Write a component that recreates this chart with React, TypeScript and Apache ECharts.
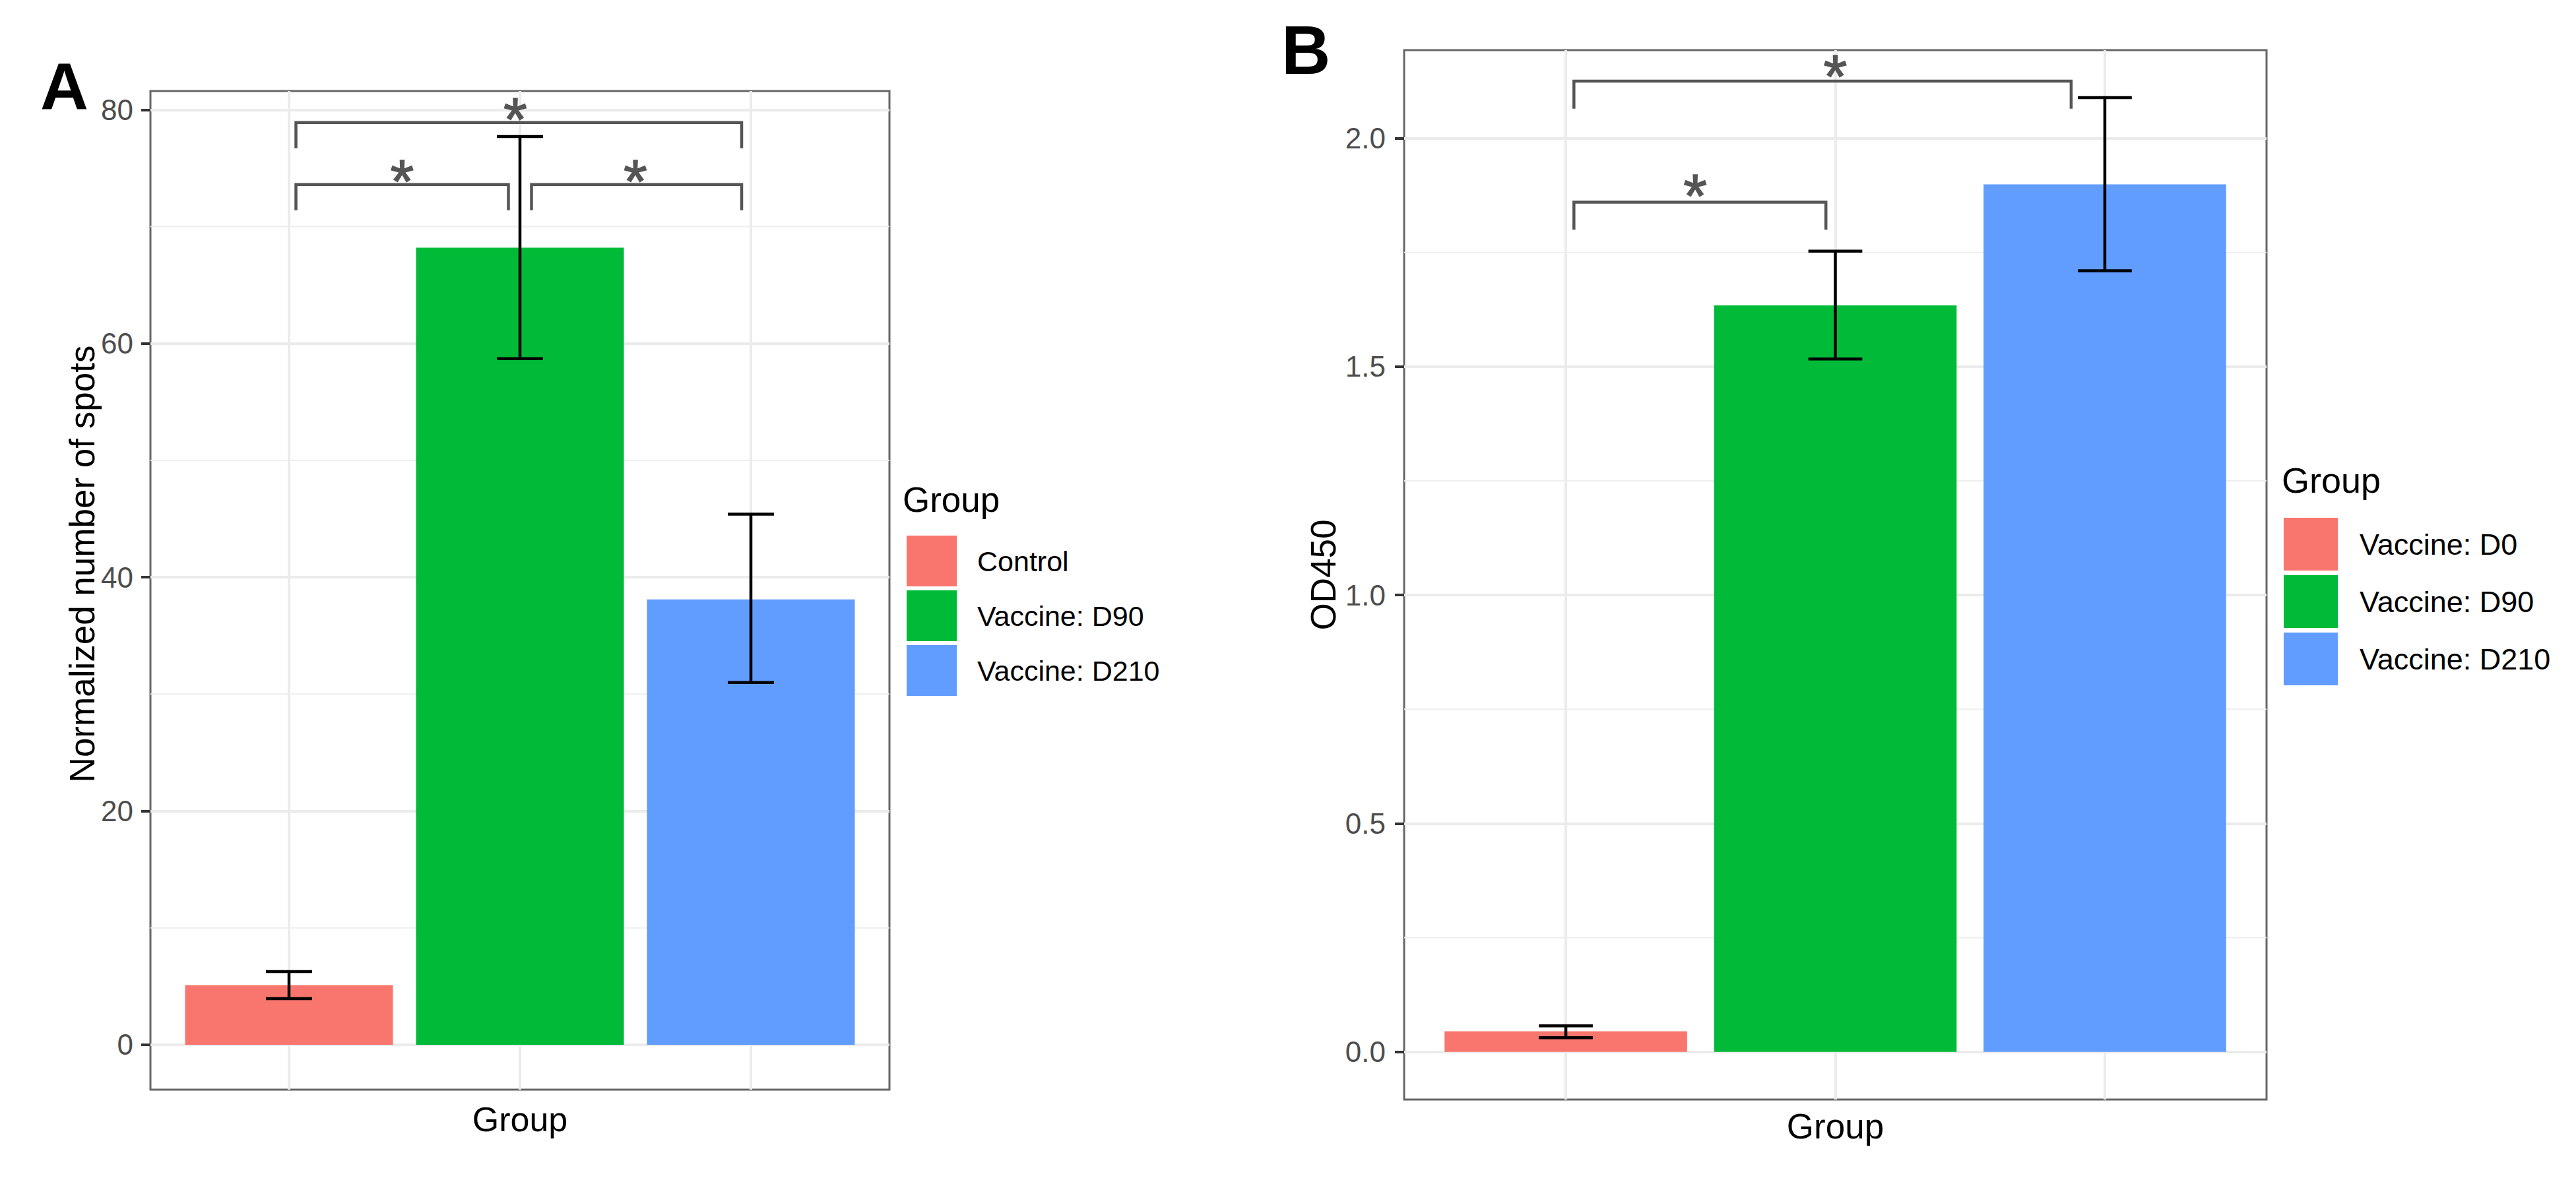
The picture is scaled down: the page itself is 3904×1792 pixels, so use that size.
import { useEffect, useRef } from "react";
import * as echarts from "echarts";

// two ggplot-style bar panels (A: ELISpot spots, B: OD450) with SE bars and significance brackets

const FONT = "Liberation Sans, Arial, Helvetica, sans-serif";
const FILLS = ["#F8766D", "#00BA38", "#619CFF"];

// panel A
const groupsA = ["Control", "Vaccine: D90", "Vaccine: D210"];
const meansA = [5.1, 68.2, 38.1];
const lowA = [3.95, 58.7, 31.0];
const highA = [6.26, 77.7, 45.4];
const ticksA = [0, 20, 40, 60, 80];
const minorA = [10, 30, 50, 70];
// [xmin, xmax, bar height, tip end]
const bracketsA = [
  [1.03, 2.96, 78.9, 76.7],
  [1.03, 1.95, 73.6, 71.4],
  [2.05, 2.96, 73.6, 71.4],
];
const starsA = [
  [1.98, 80.1],
  [1.49, 74.8],
  [2.5, 74.8],
];

// panel B
const groupsB = ["Vaccine: D0", "Vaccine: D90", "Vaccine: D210"];
const meansB = [0.045, 1.634, 1.899];
const lowB = [0.031, 1.517, 1.71];
const highB = [0.057, 1.753, 2.089];
const ticksB = [0, 0.5, 1, 1.5, 2];
const minorB = [0.25, 0.75, 1.25, 1.75];
const bracketsB = [
  [1.03, 2.875, 2.125, 2.065],
  [1.03, 1.965, 1.86, 1.8],
];
const starsB = [
  [2.0, 2.158],
  [1.48, 1.897],
];

const XMIN = 0.4;
const XMAX = 3.6;
const BAR_HALF = 0.45;
const CAP_HALF = 0.1;
const STAR_SIZE = 92;

function barSeries(names: string[], means: number[], idx: number) {
  return names.map((name, i) => ({
    name,
    type: "custom",
    xAxisIndex: idx,
    yAxisIndex: idx,
    z: 2,
    itemStyle: { color: FILLS[i] },
    data: [[i + 1, means[i]]],
    renderItem: (_p: any, api: any) => {
      const x = api.value(0);
      const v = api.value(1);
      const tl = api.coord([x - BAR_HALF, v]);
      const br = api.coord([x + BAR_HALF, 0]);
      return {
        type: "rect",
        shape: { x: tl[0], y: tl[1], width: br[0] - tl[0], height: br[1] - tl[1] },
        style: { fill: FILLS[i] },
      };
    },
  }));
}

function errorSeries(low: number[], high: number[], idx: number) {
  return {
    type: "custom",
    xAxisIndex: idx,
    yAxisIndex: idx,
    z: 4,
    data: low.map((lo, i) => [i + 1, lo, high[i]]),
    renderItem: (_p: any, api: any) => {
      const x = api.value(0);
      const top = api.coord([x, api.value(2)]);
      const bot = api.coord([x, api.value(1)]);
      const l = api.coord([x - CAP_HALF, 0])[0];
      const r = api.coord([x + CAP_HALF, 0])[0];
      const s = { stroke: "#000", lineWidth: 4.5 };
      return {
        type: "group",
        children: [
          { type: "line", shape: { x1: top[0], y1: top[1], x2: bot[0], y2: bot[1] }, style: s },
          { type: "line", shape: { x1: l, y1: top[1], x2: r, y2: top[1] }, style: s },
          { type: "line", shape: { x1: l, y1: bot[1], x2: r, y2: bot[1] }, style: s },
        ],
      };
    },
  };
}

function bracketSeries(brackets: number[][], idx: number) {
  return {
    type: "custom",
    xAxisIndex: idx,
    yAxisIndex: idx,
    z: 3,
    data: brackets,
    renderItem: (_p: any, api: any) => {
      const x0 = api.value(0);
      const x1 = api.value(1);
      const y = api.value(2);
      const tip = api.value(3);
      return {
        type: "polyline",
        shape: {
          points: [api.coord([x0, tip]), api.coord([x0, y]), api.coord([x1, y]), api.coord([x1, tip])],
        },
        style: { stroke: "#555", lineWidth: 4.5, fill: "none" },
      };
    },
  };
}

function starSeries(stars: number[][], idx: number) {
  return {
    type: "custom",
    xAxisIndex: idx,
    yAxisIndex: idx,
    z: 3,
    data: stars,
    renderItem: (_p: any, api: any) => {
      const pt = api.coord([api.value(0), api.value(1)]);
      return {
        type: "text",
        x: pt[0],
        y: pt[1] + 0.175 * STAR_SIZE,
        style: {
          text: "*",
          fontSize: STAR_SIZE,
          fontFamily: FONT,
          fill: "#555",
          stroke: "#555",
          lineWidth: 1.5,
          align: "center",
          verticalAlign: "middle",
        },
      };
    },
  };
}

function minorGridSeries(values: number[], idx: number) {
  return {
    type: "custom",
    xAxisIndex: idx,
    yAxisIndex: idx,
    z: 1,
    silent: true,
    data: values.map((v) => [XMIN, v]),
    renderItem: (_p: any, api: any) => {
      const a = api.coord([XMIN, api.value(1)]);
      const b = api.coord([XMAX, api.value(1)]);
      return {
        type: "line",
        shape: { x1: a[0], y1: a[1], x2: b[0], y2: b[1] },
        style: { stroke: "#EEEEEE", lineWidth: 2 },
      };
    },
  };
}

function xAxis(idx: number, gap: number, size: number) {
  return {
    type: "value",
    gridIndex: idx,
    min: XMIN,
    max: XMAX,
    name: "Group",
    nameLocation: "middle",
    nameGap: gap,
    nameTextStyle: { fontSize: size, color: "#000", fontFamily: FONT },
    axisLine: { show: false },
    axisLabel: { show: false },
    axisTick: { show: false, customValues: [1, 2, 3] },
    splitLine: { show: true, lineStyle: { color: "#EBEBEB", width: 4 } },
  };
}

function yAxis(
  idx: number,
  min: number,
  max: number,
  ticks: number[],
  name: string,
  gap: number,
  margin: number,
  fmt: (v: number) => string
) {
  return {
    type: "value",
    gridIndex: idx,
    min,
    max,
    name,
    nameLocation: "middle",
    nameRotate: 90,
    nameGap: gap,
    nameTextStyle: { fontSize: 53, color: "#000", fontFamily: FONT },
    axisLine: { show: false },
    axisTick: { show: true, length: 14, lineStyle: { color: "#333", width: 4 }, customValues: ticks },
    axisLabel: {
      customValues: ticks,
      fontSize: 44,
      color: "#4D4D4D",
      fontFamily: FONT,
      margin,
      formatter: fmt,
    },
    splitLine: { show: true, lineStyle: { color: "#EBEBEB", width: 4 } },
  };
}

function legend(names: string[], left: number, top: number, w: number, h: number, gap: number, size: number, pad: number) {
  return {
    data: names,
    orient: "vertical",
    left,
    top,
    padding: 0,
    icon: "rect",
    itemWidth: w,
    itemHeight: h,
    itemGap: gap,
    selectedMode: false,
    textStyle: { fontSize: size, color: "#000", fontFamily: FONT, padding: [0, 0, 0, pad] },
  };
}

export default function App() {
  const ref = useRef<HTMLDivElement>(null);

  useEffect(() => {
    if (!ref.current) return;
    const chart = echarts.init(ref.current, null, { renderer: "svg" });
    chart.setOption({
      animation: false,
      backgroundColor: "#fff",
      textStyle: { fontFamily: FONT },
      grid: [
        { left: 228, top: 138, width: 1120, height: 1514, show: true, borderColor: "#666", borderWidth: 3, backgroundColor: "#fff" },
        { left: 2128, top: 76, width: 1307, height: 1591, show: true, borderColor: "#666", borderWidth: 3, backgroundColor: "#fff" },
      ],
      xAxis: [xAxis(0, 19, 52), xAxis(1, 14, 53)],
      yAxis: [
        // panel A title is placed as a graphic (it sits above the panel's centre in the original)
        yAxis(0, -3.84, 81.6, ticksA, "", 78, 26, (v) => String(v)),
        yAxis(1, -0.1044, 2.193, ticksB, "OD450", 96, 28, (v) => v.toFixed(1)),
      ],
      legend: [
        legend(groupsA, 1374, 812, 76, 77, 6, 43, 26),
        legend(groupsB, 3461, 785, 82, 80, 7, 45, 28),
      ],
      graphic: [
        { type: "text", left: 61, top: 130 - 50, style: { text: "A", fontSize: 101, fontWeight: 900, fontFamily: FONT, fill: "#000" } },
        { type: "text", left: 1942, top: 76 - 51, style: { text: "B", fontSize: 103, fontWeight: 900, fontFamily: FONT, fill: "#000" } },
        {
          type: "text",
          x: 124,
          y: 855,
          rotation: Math.PI / 2,
          style: {
            text: "Normalized number of spots",
            fontSize: 53,
            fontFamily: FONT,
            fill: "#000",
            align: "center",
            verticalAlign: "middle",
          },
        },
        { type: "text", left: 1368, top: 757 - 26, style: { text: "Group", fontSize: 53, fontFamily: FONT, fill: "#000" } },
        { type: "text", left: 3458, top: 728 - 27, style: { text: "Group", fontSize: 54, fontFamily: FONT, fill: "#000" } },
      ],
      series: [
        minorGridSeries(minorA, 0),
        minorGridSeries(minorB, 1),
        ...barSeries(groupsA, meansA, 0),
        ...barSeries(groupsB, meansB, 1),
        errorSeries(lowA, highA, 0),
        errorSeries(lowB, highB, 1),
        bracketSeries(bracketsA, 0),
        bracketSeries(bracketsB, 1),
        starSeries(starsA, 0),
        starSeries(starsB, 1),
      ],
    });
    return () => chart.dispose();
  }, []);

  return (
    <div
      ref={ref}
      style={{ position: "fixed", left: 0, top: 0, width: 3904, height: 1792, background: "#fff" }}
    />
  );
}
